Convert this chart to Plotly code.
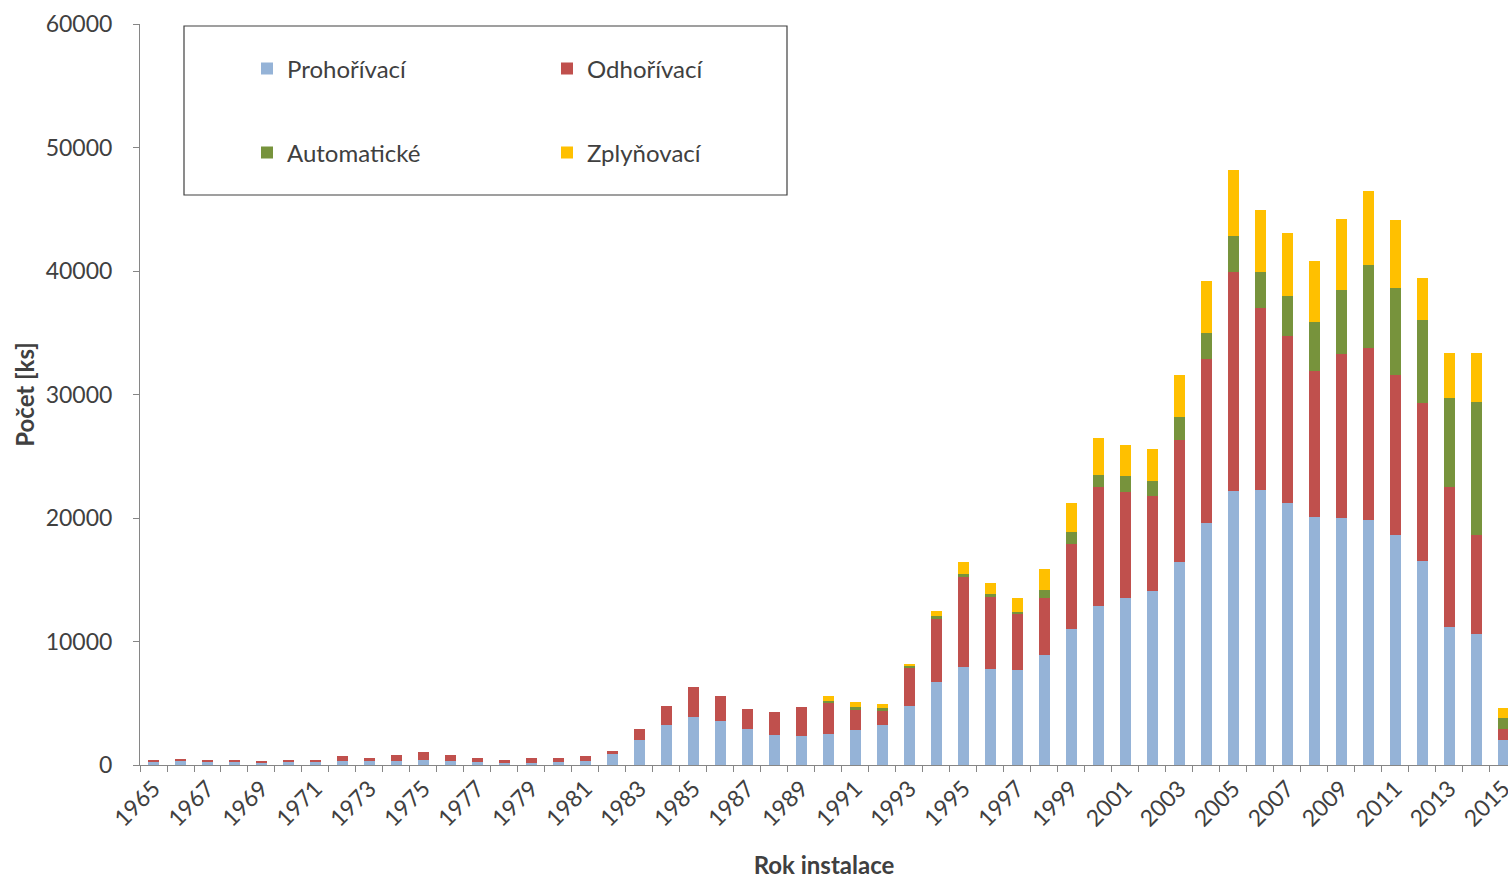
import plotly.graph_objects as go

# Installed boilers by year of installation, split by boiler type (pieces)
years = [str(y) for y in range(1965, 2016)]

prohorivaci = [250, 350, 250, 250, 200, 250, 250, 300, 300, 350, 400, 350, 250, 200, 200, 250, 300, 900,
               2000, 3200, 3900, 3600, 2900, 2400, 2350, 2550, 2800, 3250,
               4800, 6700, 7900, 7800, 7700, 8900, 11000, 12900, 13500, 14100,
               16400, 19600, 22200, 22300, 21200, 20100, 20000, 19800, 18600, 16500,
               11200, 10600, 2050]

odhorivaci = [100, 100, 100, 100, 50, 100, 100, 400, 300, 500, 650, 500, 300, 200, 350, 350, 450, 200,
              900, 1600, 2400, 2000, 1600, 1900, 2350, 2500, 1650, 1100,
              3100, 5200, 7300, 5800, 4500, 4600, 6900, 9600, 8600, 7700,
              9900, 13300, 17700, 14700, 13500, 11800, 13300, 14000, 13000, 12800,
              11300, 8000, 850]

automaticke = [0] * 25 + [100, 250, 300,
                          100, 150, 250, 250, 200, 700, 1000, 1000, 1300, 1200,
                          1900, 2100, 2900, 2900, 3300, 4000, 5200, 6700, 7000, 6700,
                          7200, 10800, 900]

zplynovaci = [0] * 25 + [450, 400, 300,
                         200, 450, 950, 850, 1100, 1700, 2300, 3000, 2500, 2600,
                         3400, 4200, 5400, 5000, 5100, 4900, 5700, 6000, 5500, 3400,
                         3700, 4000, 800]

# every other year is labelled on the category axis
tick_labels = [y if (int(y) - 1965) % 2 == 0 else "" for y in years]

series = [
    ("Prohořívací", prohorivaci, "#95B3D7", "legend"),
    ("Odhořívací", odhorivaci, "#C0504D", "legend2"),
    ("Automatické", automaticke, "#77933C", "legend3"),
    ("Zplyňovací", zplynovaci, "#FFC000", "legend4"),
]

FONT = "Lato, 'Open Sans', sans-serif"
TXT = "#404040"

fig = go.Figure()
for name, vals, color, leg in series:
    fig.add_trace(go.Bar(
        x=years, y=vals, name=name,
        marker=dict(color=color, line=dict(width=0)),
        legend=leg,
    ))

W, H = 1508, 879
L, R, T, B = 140, 0, 24, 114
pw, ph = W - L - R, H - T - B


def px(xp):
    return (xp - L) / pw


def py(yp):
    return (H - B - yp) / ph


leg_common = dict(
    font=dict(family=FONT, size=24, color=TXT),
    bgcolor="rgba(0,0,0,0)",
    borderwidth=0,
    xanchor="left",
    yanchor="middle",
)

fig.update_layout(
    width=W, height=H,
    margin=dict(l=L, r=R, t=T, b=B, autoexpand=False),
    paper_bgcolor="white",
    plot_bgcolor="white",
    barmode="stack",
    bargap=0.6,
    font=dict(family=FONT, size=23, color=TXT),
    showlegend=True,
    legend=dict(x=px(247), y=py(69), **leg_common),
    legend2=dict(x=px(547), y=py(69), **leg_common),
    legend3=dict(x=px(247), y=py(153), **leg_common),
    legend4=dict(x=px(547), y=py(153), **leg_common),
    xaxis=dict(
        type="category",
        range=[-0.5, 50.17],
        tickmode="array",
        tickvals=years,
        ticktext=tick_labels,
        tickangle=-45,
        tickson="boundaries",
        ticks="outside",
        ticklen=6,
        tickcolor="#868686",
        showline=True,
        linecolor="#868686",
        linewidth=1,
        showgrid=False,
        zeroline=False,
        tickfont=dict(family=FONT, size=23, color=TXT),
        title=dict(text="<b>Rok instalace</b>", font=dict(family=FONT, size=24, color=TXT), standoff=28),
        automargin=False,
    ),
    yaxis=dict(
        range=[0, 60000],
        tickmode="array",
        tickvals=[0, 10000, 20000, 30000, 40000, 50000, 60000],
        ticktext=["0", "10000", "20000", "30000", "40000", "50000", "60000"],
        ticks="outside",
        ticklen=6,
        tickcolor="#868686",
        ticklabelstandoff=16,
        showline=True,
        linecolor="#868686",
        linewidth=1,
        showgrid=False,
        zeroline=False,
        tickfont=dict(family=FONT, size=23, color=TXT),
        title=dict(text="<b>Počet [ks]</b>", font=dict(family=FONT, size=24, color=TXT), standoff=4),
        automargin=False,
    ),
    shapes=[
        dict(type="rect", xref="paper", yref="paper",
             x0=px(184), x1=px(787), y0=py(195), y1=py(26),
             line=dict(color="#404040", width=1.2), fillcolor="rgba(0,0,0,0)", layer="above"),
    ],
)

fig.write_html("out.html")
